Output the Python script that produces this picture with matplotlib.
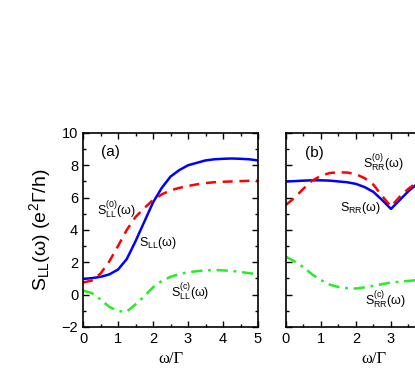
import matplotlib
matplotlib.use('Agg')
import matplotlib.pyplot as plt
from matplotlib.ticker import MultipleLocator

plt.rcParams['font.family'] = ['Liberation Sans', 'DejaVu Sans']
plt.rcParams['mathtext.default'] = 'regular'

# frequency grid (omega / Gamma)
w = [0, 0.25, 0.5, 0.75, 1.0, 1.25, 1.5, 1.75, 2.0, 2.25, 2.5,
     2.75, 3.0, 3.25, 3.5, 3.75, 4.0, 4.25, 4.5, 4.75, 5.0]

# panel (a): left lead
s_ll = [0.97, 1.02, 1.1, 1.25, 1.55, 2.2, 3.3, 4.5, 5.7, 6.6, 7.3,
        7.7, 8.0, 8.15, 8.3, 8.37, 8.4, 8.42, 8.4, 8.37, 8.3]
s_ll0 = [0.75, 0.87, 1.3, 2.05, 3.0, 4.0, 4.8, 5.35, 5.85, 6.2, 6.45,
         6.6, 6.72, 6.82, 6.9, 6.95, 6.98, 7.0, 7.02, 7.04, 7.05]
s_llc = [0.25, 0.1, -0.3, -0.75, -1.02, -1.05, -0.6, -0.1, 0.45, 0.85, 1.1,
         1.28, 1.38, 1.45, 1.5, 1.52, 1.5, 1.47, 1.4, 1.33, 1.25]

# panel (b): right lead
s_rr = [7.0, 7.02, 7.05, 7.07, 7.07, 7.05, 7.0, 6.95, 6.85, 6.65, 6.35,
        5.85, 5.3, 5.85, 6.4, 6.85, 7.15, 7.3, 7.45, 7.55, 7.6]
s_rr0 = [5.55, 6.0, 6.55, 7.05, 7.35, 7.52, 7.57, 7.55, 7.45, 7.2, 6.8,
         6.1, 5.45, 6.05, 6.55, 6.95, 7.2, 7.35, 7.45, 7.5, 7.55]
s_rrc = [2.35, 2.05, 1.7, 1.25, 0.9, 0.62, 0.47, 0.4, 0.38, 0.45, 0.55,
         0.65, 0.75, 0.8, 0.85, 0.9, 0.93, 0.96, 0.98, 0.99, 1.0]

fig = plt.figure(figsize=(4.15, 3.82), dpi=100)
ax1 = fig.add_axes([0.2, 0.144, 0.4217, 0.508])
ax2 = fig.add_axes([0.689, 0.144, 0.4217, 0.508])

lw = 1.8
blue, red, green = '#0000ff', '#ff0000', '#22ee22'
ax1.plot(w, s_ll, color=blue, lw=lw)
ax1.plot(w, s_ll0, color=red, lw=lw, dashes=(4, 2.7))
ax1.plot(w, s_llc, color=green, lw=lw, dashes=(4.5, 2.3, 1.1, 2.3))

ax2.plot(w, s_rr, color=blue, lw=lw)
ax2.plot(w, s_rr0, color=red, lw=lw, dashes=(4, 2.7))
ax2.plot(w, s_rrc, color=green, lw=lw, dashes=(4.5, 2.3, 1.1, 2.3))

for ax in (ax1, ax2):
    ax.set_xlim(0, 5)
    ax.set_ylim(-2, 10)
    ax.xaxis.set_major_locator(MultipleLocator(1))
    ax.xaxis.set_minor_locator(MultipleLocator(0.5))
    ax.yaxis.set_major_locator(MultipleLocator(2))
    ax.yaxis.set_minor_locator(MultipleLocator(1))
    ax.tick_params(which='both', direction='in', top=True, right=True, labelsize=10.5, width=1)
    ax.tick_params(which='major', length=4)
    ax.tick_params(which='minor', length=2.5)
    for sp in ax.spines.values():
        sp.set_linewidth(1.2)
    ax.set_xlabel('ω/Γ', family=['Liberation Serif', 'DejaVu Serif'], fontsize=12, labelpad=4)

# right panel runs past the figure edge; labels 4 and 5 are not visible there
ax2.set_xticks([0, 1, 2, 3, 4, 5])
ax2.set_xticklabels(['0', '1', '2', '3', '', ''])
ax2.tick_params(labelleft=False)

ax1.set_ylabel('S$_{LL}$(ω) (e$^2$Γ/h)', fontsize=14, labelpad=6)

ax1.text(0.5, 8.8, '(a)', fontsize=11, va='center')
ax1.text(0.4, 5.2, 'S$_{LL}^{(0)}$(ω)', fontsize=9, va='center')
ax1.text(1.6, 3.2, 'S$_{LL}$(ω)', fontsize=9, va='center')
ax1.text(2.5, 0.15, 'S$_{LL}^{(c)}$(ω)', fontsize=9, va='center')

ax2.text(0.54, 8.75, '(b)', fontsize=11, va='center')
ax2.text(2.2, 8.15, 'S$_{RR}^{(0)}$(ω)', fontsize=9, va='center')
ax2.text(1.55, 5.35, 'S$_{RR}$(ω)', fontsize=9, va='center')
ax2.text(2.27, -0.35, 'S$_{RR}^{(c)}$(ω)', fontsize=9, va='center')

fig.savefig('out.png', dpi=100)
